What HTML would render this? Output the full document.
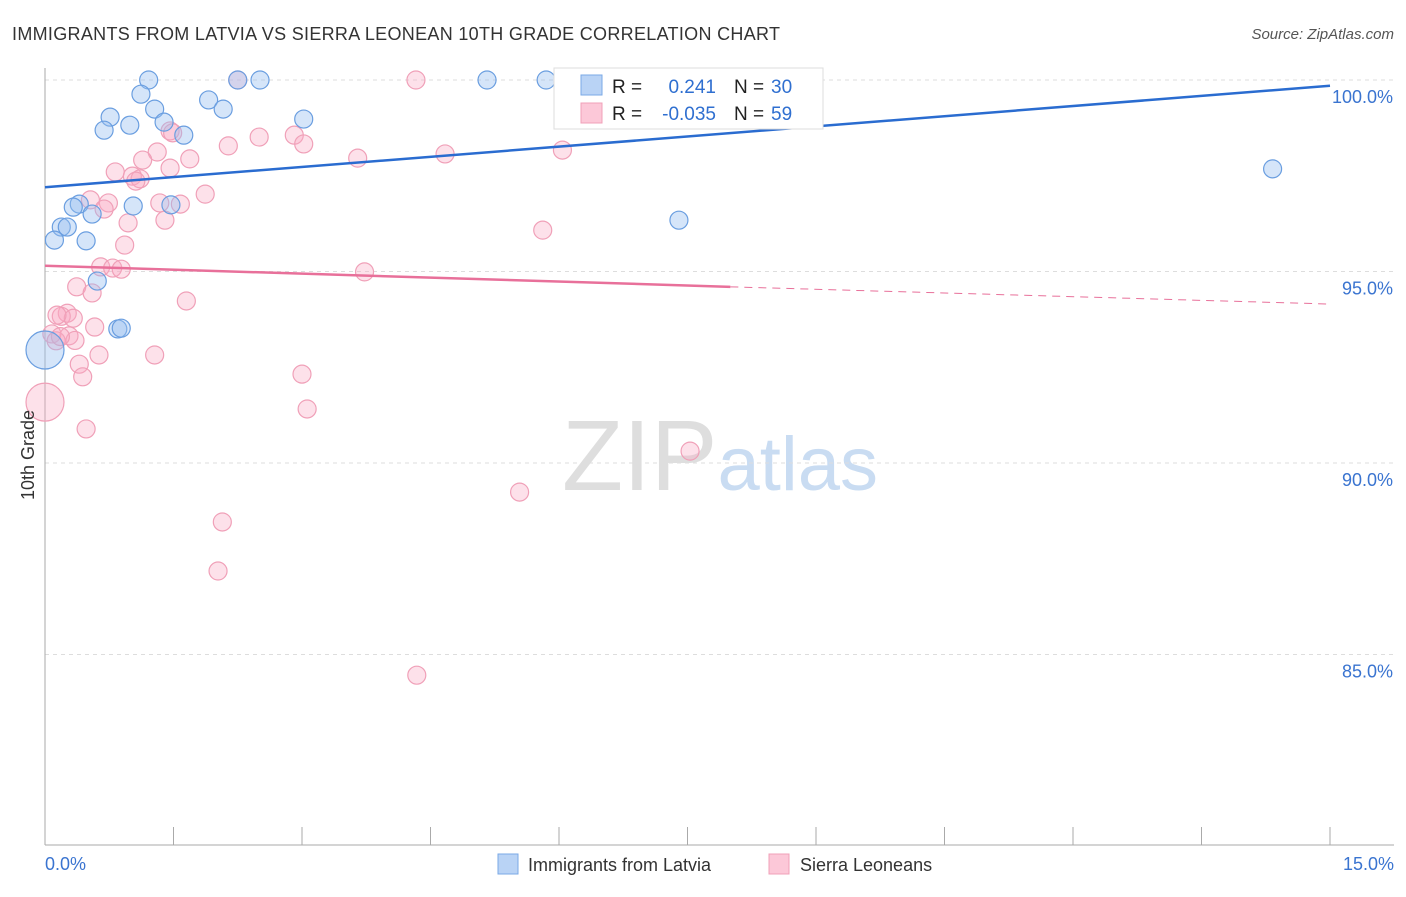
<!DOCTYPE html>
<html><head><meta charset="utf-8"><style>
body{margin:0;background:#fff;font-family:"Liberation Sans",sans-serif;}
svg text{font-family:"Liberation Sans",sans-serif;}
</style></head><body>
<svg id="chart" width="1406" height="892" xmlns="http://www.w3.org/2000/svg">
<text x="12" y="40" font-size="18" fill="#333" textLength="768">IMMIGRANTS FROM LATVIA VS SIERRA LEONEAN 10TH GRADE CORRELATION CHART</text>
<text x="1394" y="39" font-size="15" fill="#555" text-anchor="end" font-style="italic">Source: ZipAtlas.com</text>
<text x="720" y="490" font-size="100" text-anchor="middle" fill="#e6e6e6" font-family="Liberation Serif"><tspan fill="#dedede">ZIP</tspan><tspan fill="#c9dcf2" font-family="Liberation Sans" font-size="76">atlas</tspan></text>
<g id="grid"></g>
<g id="axes"></g>
<g id="points"></g>
<g id="trends"></g>
<text transform="translate(34,455) rotate(-90)" font-size="18" fill="#333" text-anchor="middle">10th Grade</text>
<g>
<rect x="554" y="68" width="269" height="61" fill="#fff" stroke="#ddd"/>
<rect x="581" y="75" width="21" height="20" fill="#b9d3f5" stroke="#7aa8e6"/>
<rect x="581" y="103" width="21" height="20" fill="#fcc8d8" stroke="#f0a0b8"/>
<text x="612" y="93" font-size="19" fill="#222">R =</text>
<text x="716" y="93" font-size="19" fill="#2f6fd0" text-anchor="end">0.241</text>
<text x="734" y="93" font-size="19" fill="#222">N =</text>
<text x="771" y="93" font-size="19" fill="#2f6fd0">30</text>
<text x="612" y="120" font-size="19" fill="#222">R =</text>
<text x="716" y="120" font-size="19" fill="#2f6fd0" text-anchor="end">-0.035</text>
<text x="734" y="120" font-size="19" fill="#222">N =</text>
<text x="771" y="120" font-size="19" fill="#2f6fd0">59</text>
</g>
<g>
<rect x="498" y="854" width="20" height="20" fill="#b9d3f5" stroke="#7aa8e6"/>
<text x="528" y="871" font-size="18" fill="#333">Immigrants from Latvia</text>
<rect x="769" y="854" width="20" height="20" fill="#fcc8d8" stroke="#f0a0b8"/>
<text x="800" y="871" font-size="18" fill="#333">Sierra Leoneans</text>
</g>
</svg>
<script>
const yTicks=[100,95,90,85];
const xTickLabels=["0.0%","15.0%"];
const blueX=[1.21,1.12,1.28,0.76,0.69,0.99,1.39,1.62,1.91,2.08,2.25,2.51,3.02,5.16,5.85,14.33,7.40,0.40,0.33,1.03,1.47,0.55,0.19,0.26,0.11,0.48,0.61,0.85,0.89,0.0];
const blueY=[100,99.63,99.24,99.03,98.69,98.82,98.90,98.56,99.48,99.24,100,100,98.98,100,100,97.68,96.34,96.76,96.68,96.71,96.74,96.50,96.16,96.16,95.82,95.80,94.75,93.50,93.52,92.95];
const blueR=[9,9,9,9,9,9,9,9,9,9,9,9,9,9,9,9,9,9,9,9,9,9,9,9,9,9,9,9,9,19];
const pinkX=[2.25,4.33,1.46,1.49,2.14,2.50,2.91,3.02,3.65,4.67,6.04,1.31,1.14,0.82,1.69,1.46,1.02,1.11,1.06,0.53,0.74,0.69,1.34,1.58,1.87,0.97,1.40,5.81,0.93,0.65,0.79,0.89,3.73,0.37,0.55,1.65,0.26,0.19,0.33,0.14,0.58,0.28,0.08,0.13,1.28,0.63,0.40,0.44,3.00,3.06,0.0,0.48,7.53,5.54,2.07,2.02,4.34,0.35,0.18];
const pinkY=[100,100,98.67,98.62,98.28,98.51,98.56,98.33,97.96,98.07,98.17,98.12,97.91,97.60,97.94,97.70,97.49,97.42,97.36,96.87,96.79,96.63,96.79,96.76,97.02,96.27,96.34,96.08,95.69,95.12,95.09,95.06,94.99,94.60,94.44,94.23,93.91,93.83,93.78,93.86,93.55,93.32,93.37,93.19,92.82,92.82,92.58,92.25,92.32,91.41,91.59,90.89,90.31,89.24,88.46,87.18,84.46,93.20,93.30];
const pinkR=pinkX.map((v,i)=>i===50?19:9);
const blueTrend=[[0,97.2],[15,99.85]];
const pinkTrend=[[0,95.15],[8,94.6],[15,94.15]];
const X=v=>45+v/15*1285, Y=v=>80+(100-v)*38.3;
const NS="http://www.w3.org/2000/svg";
function mk(parent,tag,attrs){const e=document.createElementNS(NS,tag);for(const k in attrs)e.setAttribute(k,attrs[k]);document.getElementById(parent).appendChild(e);return e;}
yTicks.forEach(t=>{
 const l=mk('grid','line',{x1:45,x2:1394,y1:Y(t),y2:Y(t),stroke:'#ddd','stroke-dasharray':'4,4'});
 
 
 const tx=mk('grid','text',{x:1393,y:Y(t)+23,'font-size':18,fill:'#3a74d0','text-anchor':'end'});
 tx.textContent=t.toFixed(1)+'%';
 
 
});
let ax=mk('axes','line',{x1:45,x2:45,y1:68,y2:845,stroke:'#aaa'});


ax=mk('axes','line',{x1:45,x2:1394,y1:845,y2:845,stroke:'#aaa'});


for(let i=0;i<=10;i++){const t=mk('axes','line',{x1:X(i*1.5),x2:X(i*1.5),y1:827,y2:845,stroke:'#aaa'});
 
 }
[[0,xTickLabels[0],'start',45],[15,xTickLabels[1],'end',1394]].forEach(a=>{const t=mk('axes','text',{x:a[3],y:870,'font-size':18,fill:'#3a74d0','text-anchor':a[2]});t.textContent=a[1];
 
 });
pinkX.forEach((v,i)=>{const c=mk('points','circle',{cx:X(v),cy:Y(pinkY[i]),r:pinkR[i],fill:'rgba(248,170,195,0.35)',stroke:'#f0a0b8','stroke-width':1.2});
 
 });
blueX.forEach((v,i)=>{const c=mk('points','circle',{cx:X(v),cy:Y(blueY[i]),r:blueR[i],fill:'rgba(150,190,240,0.4)',stroke:'#6a9ee0','stroke-width':1.2});
 
 });
let tl=mk('trends','line',{x1:X(blueTrend[0][0]),y1:Y(blueTrend[0][1]),x2:X(blueTrend[1][0]),y2:Y(blueTrend[1][1]),stroke:'#2a6cd0','stroke-width':2.5});


tl=mk('trends','line',{x1:X(pinkTrend[0][0]),y1:Y(pinkTrend[0][1]),x2:X(pinkTrend[1][0]),y2:Y(pinkTrend[1][1]),stroke:'#e8709a','stroke-width':2.5});


tl=mk('trends','line',{x1:X(pinkTrend[1][0]),y1:Y(pinkTrend[1][1]),x2:X(pinkTrend[2][0]),y2:Y(pinkTrend[2][1]),stroke:'#e8709a','stroke-width':1,'stroke-dasharray':'8,6'});


</script>
</body></html>
